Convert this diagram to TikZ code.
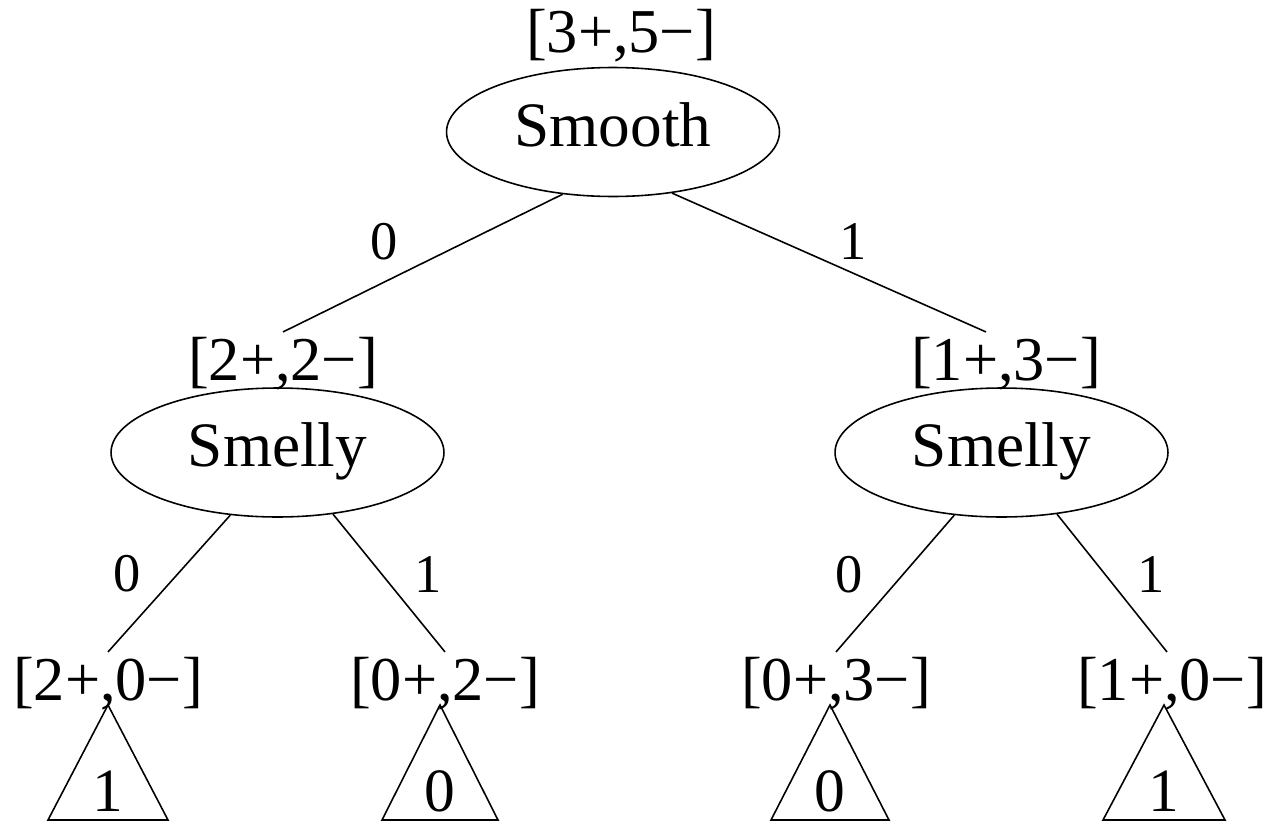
\documentclass[tikz,border=0pt]{standalone}
\usepackage{fontspec}
\setmainfont{Liberation Serif}
\usetikzlibrary{shapes.geometric}

\begin{document}
\begin{tikzpicture}[
    x=0.02cm, y=-0.02cm,
    attr/.style={draw, ellipse, line width=0.9pt, minimum width=6.66cm, minimum height=2.58cm, inner sep=0pt, text depth=9pt, font=\fontsize{36}{42}\selectfont},
    counts/.style={inner sep=3pt, font=\fontsize{35.5}{42}\selectfont},
    branch/.style={line width=0.9pt},
    val/.style={inner sep=0pt, font=\fontsize{31}{36}\selectfont},
    leaf/.style={draw, line width=0.9pt, line join=miter},
    leafval/.style={inner sep=0pt, font=\fontsize{35}{40}\selectfont}
]
\useasboundingbox (0,0) rectangle (1271,822);

\node[counts] (c35) at (621, 36) {[3+,5−]};
\node[attr] (smooth) at (613, 132) {Smooth};

\node[counts] (c22) at (283, 364) {[2+,2−]};
\node[counts] (c13) at (1006, 364) {[1+,3−]};
\node[attr] (smellyl) at (277.5, 452.5) {Smelly};
\node[attr] (smellyr) at (1001.5, 452.5) {Smelly};

\node[counts] (c20) at (108, 684) {[2+,0−]};
\node[counts] (c02) at (445, 684) {[0+,2−]};
\node[counts] (c03) at (836, 684) {[0+,3−]};
\node[counts] (c10) at (1172, 684) {[1+,0−]};

\node[val] (v0) at (384, 242) {0};
\node[val] (v1) at (853, 242) {1};
\node[val] (vl0) at (127, 574) {0};
\node[val] (vl1) at (428, 575) {1};
\node[val] (vr0) at (849, 575) {0};
\node[val] (vr1) at (1151, 575) {1};

\draw[branch] (smooth.231) -- (c22.north);
\draw[branch] (smooth.314) -- ([xshift=-0.4cm]c13.north);
\draw[branch] (smellyl.233) -- (c20.north);
\draw[branch] (smellyl.312) -- (c02.north);
\draw[branch] (smellyr.233) -- (c03.north);
\draw[branch] (smellyr.312) -- ([xshift=-0.1cm]c10.north);

\coordinate (t20) at (108, 705);
\coordinate (t02) at (440, 705);
\coordinate (t03) at (830, 705);
\coordinate (t10) at (1164, 705);
\draw[leaf] (t20) -- ++(-60,115) -- ++(120,0) -- cycle;
\draw[leaf] (t02) -- ++(-58,115) -- ++(116,0) -- cycle;
\draw[leaf] (t03) -- ++(-59,115) -- ++(118,0) -- cycle;
\draw[leaf] (t10) -- ++(-61,115) -- ++(122,0) -- cycle;

\node[leafval] (l20) at (108, 791) {1};
\node[leafval] (l02) at (440, 791) {0};
\node[leafval] (l03) at (830, 791) {0};
\node[leafval] (l10) at (1164, 791) {1};
\end{tikzpicture}
\end{document}
